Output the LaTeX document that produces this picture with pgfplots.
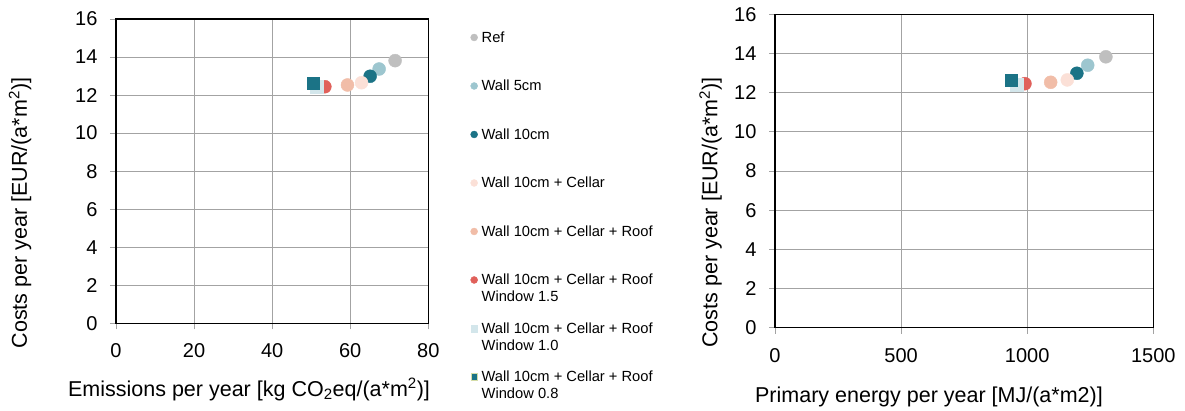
\documentclass[border=0pt]{standalone}
\usepackage{pgfplots}
\pgfplotsset{compat=1.18}
\usepackage{fontspec}
\setmainfont{Liberation Sans}

% scenario colours
\definecolor{cRef}{HTML}{BFBFBF}
\definecolor{cWallFive}{HTML}{9DC6CF}
\definecolor{cWallTen}{HTML}{1B7386}
\definecolor{cCellar}{HTML}{FBE0D7}
\definecolor{cRoof}{HTML}{F1BDA8}
\definecolor{cWinA}{HTML}{E0605A}
\definecolor{cWinB}{HTML}{D3E6EB}
\definecolor{cWinC}{HTML}{1B7386}
\definecolor{cWinCedge}{HTML}{D5DDA8}
\definecolor{gridgray}{HTML}{A3A3A3}

\pgfplotsset{
  costaxis/.style={
    scale only axis,
    xmin=0, ymin=0, ymax=16,
    ytick={0,2,...,16},
    xtick pos=lower, ytick pos=left,
    grid=major,
    major grid style={gridgray, line width=0.8pt},
    axis line style={draw=none},
    tick align=outside,
    major tick length=6pt,
    tick style={gridgray, line width=0.8pt},
    ticklabel style={font=\fontsize{20}{24}\selectfont},
    /pgf/number format/assume math mode=true,
    /pgf/number format/1000 sep={},
    yticklabel style={xshift=-9pt},
    xticklabel style={yshift=-11pt},
    every axis y label/.style={rotate=90, anchor=center, font=\fontsize{21.5}{26}\selectfont},
    every axis x label/.style={anchor=base, font=\fontsize{21.5}{26}\selectfont},
    after end axis/.code={
      \draw[black, line width=1.2pt] (rel axis cs:0,0) rectangle (rel axis cs:1,1);
    },
  },
  pt/.style={only marks, mark=*, mark size=6.5pt, color=#1, mark options={fill=#1}},
  sq/.style={only marks, mark=square*, mark size=6.2pt, color=#1, mark options={fill=#1}},
}

\begin{document}
\begin{tikzpicture}
\useasboundingbox (0pt,0pt) rectangle (1185pt,410pt);

% costs versus emissions
\begin{axis}[costaxis,
  at={(116pt,86.7pt)}, anchor=south west,
  width=312.3pt, height=304.3pt,
  xmax=80, xtick={0,20,...,80},
  xlabel={Emissions per year [kg CO\textsubscript{2}eq/(a*m\textsuperscript{2})]},
  ylabel={Costs per year [EUR/(a*m\textsuperscript{2})]},
  x label style={at={(axis description cs:0.426,-0.239)}},
  y label style={at={(axis description cs:-0.307,0.3625)}},
  legend cell align=left,
  legend style={draw=none, fill=none,
    at={(axis description cs:1.135,0.96)}, anchor=north west,
    font=\fontsize{14.7}{17}\selectfont,
    inner sep=0pt, row sep=37.5pt,
    nodes={text height=11pt, text depth=0pt, inner sep=0pt},
    /tikz/every odd column/.append style={column sep=4pt}},
  legend image code/.code={\draw[#1] plot coordinates {(0pt,-0.6pt)};},
]
\addplot[pt=cRef, legend image post style={mark size=3.5pt}] coordinates {(71.5,13.81)};
\addlegendentry{Ref}
\addplot[pt=cWallFive, legend image post style={mark size=3.5pt}] coordinates {(67.4,13.37)};
\addlegendentry{Wall 5cm}
\addplot[pt=cWallTen, legend image post style={mark size=3.5pt}] coordinates {(65.1,12.99)};
\addlegendentry{Wall 10cm}
\addplot[pt=cCellar, legend image post style={mark size=3.5pt}] coordinates {(62.9,12.65)};
\addlegendentry{Wall 10cm + Cellar}
\addplot[pt=cRoof, legend image post style={mark size=3.5pt}] coordinates {(59.3,12.53)};
\addlegendentry{Wall 10cm + Cellar + Roof}
\addplot[pt=cWinA, legend image post style={mark size=3.5pt}] coordinates {(53.5,12.44)};
\addlegendentry{\parbox[t]{200pt}{Wall 10cm + Cellar + Roof\\Window 1.5}}
\addplot[sq=cWinB, legend image post style={mark size=3.3pt}] coordinates {(51.4,12.45)};
\addlegendentry{\parbox[t]{200pt}{Wall 10cm + Cellar + Roof\\Window 1.0}}
\addplot[sq=cWinC, legend image post style={mark size=3.3pt, mark options={draw=cWinCedge, line width=0.6pt}}] coordinates {(50.5,12.62)};
\addlegendentry{\parbox[t]{200pt}{Wall 10cm + Cellar + Roof\\Window 0.8}}
\end{axis}

% costs versus primary energy
\begin{axis}[costaxis,
  at={(775pt,82.3pt)}, anchor=south west,
  width=378.3pt, height=313.4pt,
  xmax=1500, xtick={0,500,1000,1500},
  xlabel={Primary energy per year [MJ/(a*m2)]},
  ylabel={Costs per year [EUR/(a*m\textsuperscript{2})]},
  x label style={at={(axis description cs:0.407,-0.239)}},
  y label style={at={(axis description cs:-0.170,0.368)}},
]
\addplot[pt=cRef] coordinates {(1312,13.83)};
\addplot[pt=cWallFive] coordinates {(1240,13.40)};
\addplot[pt=cWallTen] coordinates {(1197,12.99)};
\addplot[pt=cCellar] coordinates {(1159,12.65)};
\addplot[pt=cRoof] coordinates {(1093,12.53)};
\addplot[pt=cWinA] coordinates {(991,12.46)};
\addplot[sq=cWinB] coordinates {(959,12.40)};
\addplot[sq=cWinC] coordinates {(937,12.63)};
\end{axis}
\end{tikzpicture}
\end{document}
